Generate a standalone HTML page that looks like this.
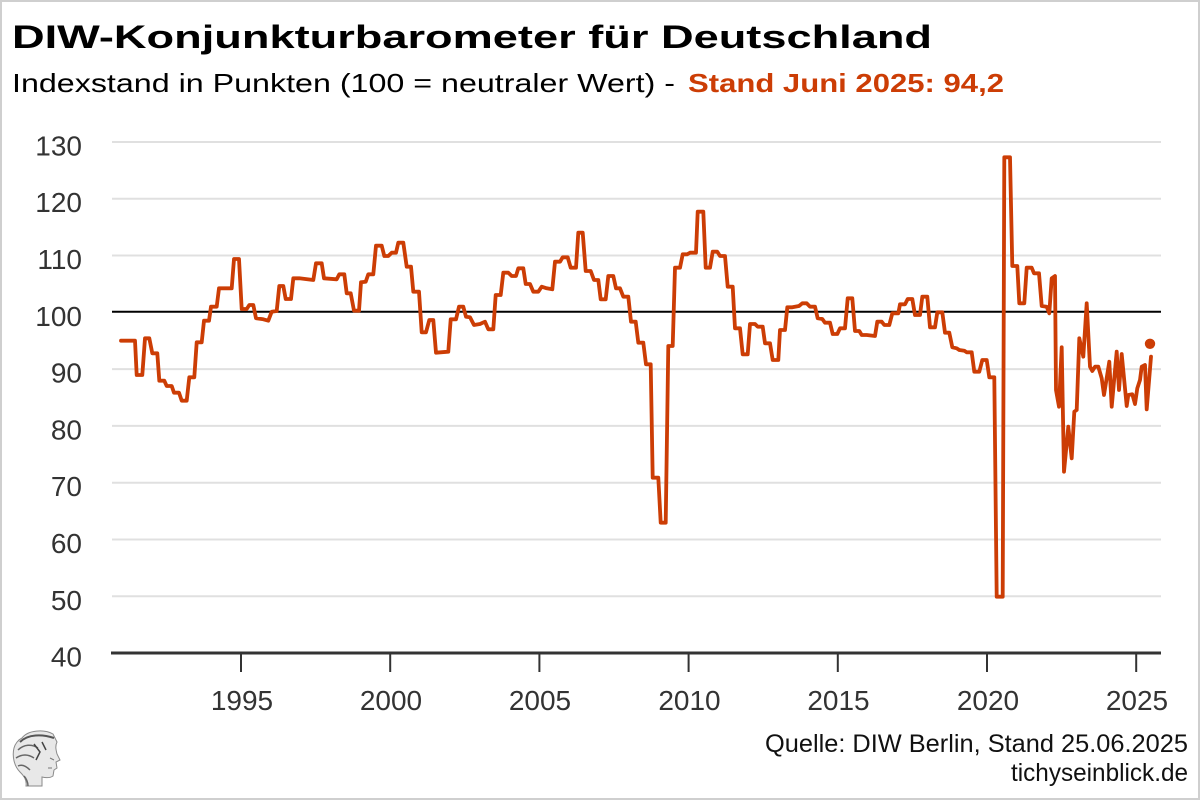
<!DOCTYPE html>
<html><head><meta charset="utf-8"><style>
html,body{margin:0;padding:0;background:#fff;}
svg{display:block;}
text{font-family:"Liberation Sans",sans-serif;}
</style></head><body>
<svg width="1200" height="800" viewBox="0 0 1200 800" xmlns="http://www.w3.org/2000/svg">
<rect x="0" y="0" width="1200" height="800" fill="#fff"/>
<rect x="1" y="1" width="1198" height="798" fill="none" stroke="#cfcfcf" stroke-width="2"/>

<text x="12" y="48" font-size="32" font-weight="bold" fill="#000" textLength="920" lengthAdjust="spacingAndGlyphs">DIW-Konjunkturbarometer für Deutschland</text>
<text x="12" y="92" font-size="26" fill="#000" textLength="663" lengthAdjust="spacingAndGlyphs">Indexstand in Punkten (100 = neutraler Wert) -</text>
<text x="688" y="92" font-size="26" font-weight="bold" fill="#cc3d05" textLength="316" lengthAdjust="spacingAndGlyphs">Stand Juni 2025: 94,2</text>

<g stroke="#e0e0e0" stroke-width="2">
<line x1="112" y1="142" x2="1161" y2="142"/>
<line x1="112" y1="198.7" x2="1161" y2="198.7"/>
<line x1="112" y1="255.5" x2="1161" y2="255.5"/>
<line x1="112" y1="369.1" x2="1161" y2="369.1"/>
<line x1="112" y1="425.9" x2="1161" y2="425.9"/>
<line x1="112" y1="482.7" x2="1161" y2="482.7"/>
<line x1="112" y1="539.5" x2="1161" y2="539.5"/>
<line x1="112" y1="596.3" x2="1161" y2="596.3"/>
</g>
<line x1="112" y1="311.8" x2="1161" y2="311.8" stroke="#000" stroke-width="2"/>

<g font-size="28" fill="#333" text-anchor="end">
<text x="82" y="155.5">130</text>
<text x="82" y="212.2">120</text>
<text x="82" y="269">110</text>
<text x="82" y="325.8">100</text>
<text x="82" y="382.6">90</text>
<text x="82" y="439.4">80</text>
<text x="82" y="496.2">70</text>
<text x="82" y="553">60</text>
<text x="82" y="609.8">50</text>
<text x="82" y="666.6">40</text>
</g>

<line x1="111" y1="653" x2="1161" y2="653" stroke="#333" stroke-width="3"/>
<g stroke="#333" stroke-width="2">
<line x1="241" y1="653" x2="241" y2="672"/>
<line x1="390.2" y1="653" x2="390.2" y2="672"/>
<line x1="539.4" y1="653" x2="539.4" y2="672"/>
<line x1="688.6" y1="653" x2="688.6" y2="672"/>
<line x1="837.8" y1="653" x2="837.8" y2="672"/>
<line x1="987" y1="653" x2="987" y2="672"/>
<line x1="1136.2" y1="653" x2="1136.2" y2="672"/>
</g>
<g font-size="28" fill="#333" text-anchor="middle">
<text x="242" y="710">1995</text>
<text x="391" y="710">2000</text>
<text x="540" y="710">2005</text>
<text x="689.5" y="710">2010</text>
<text x="838.5" y="710">2015</text>
<text x="988" y="710">2020</text>
<text x="1137" y="710">2025</text>
</g>

<polyline fill="none" stroke="#cc3d05" stroke-width="3.8" stroke-linejoin="round" stroke-linecap="round" points="
121,340.7 135,340.7 136.7,375 142.3,375 145,338.3 149.3,338.3 152.3,353.3 157.3,353.3 159.3,380.7 164.3,380.7
166.7,386 171.7,386 174,392.7 179,392.7 181.7,400.7 186.7,400.7 189.3,377.3 194.3,377.3 196.7,342.3 201.7,342.3
204,320.7 209,320.7 211,306.7 216.7,306.7 219,288.3 231.7,288.3 234,259 239,259 241.7,309 246.7,309
249.3,305 253.3,305 256,318.3 263.3,319.3 268.3,320.7 271.7,311.7 276.7,311 279.3,286 283.3,286 285.7,299
291,299 293.3,278.3 299.3,278.3 313.3,280 316,263.3 321.7,263.3 324,278.3 336.7,279.3 339.3,274.3 344.3,274.3
346.7,293.3 350.7,293.3 354,310.7 359,310.7 361,282.3 365.7,281.7 368.3,274.3 373.3,274.3 376,245.7 381.7,245.7
384.3,256 388.3,256 391.7,252.7 396,252.7 398.3,242.7 403.3,242.7 406.7,266.7 411,266.7 413.3,291.7 419,291.7
421.7,332.3 426,332.3 429.3,320 433.3,320 436,352.7 448.3,351.7 450.7,319.3 456,319.3 459,306.7 463.3,306.7
466,316.7 470,317.3 474,325 480,324 485,321.7 488.3,329.3 493.3,329.3 495.7,295 500.7,295 503.3,272.7
508.3,272.7 511.7,276 516,276 518.3,268.3 523.3,268.3 525.7,284 530,284 533.3,291.7 538.3,291.7 541.7,286.7
546.7,288.3 552.3,289.3 555,261.7 560,261.7 562.7,257.3 567.7,257.3 570.7,267.7 576,267.7 578.3,232.7 582.7,232.7
585.7,271 590.7,271 594,280 598.3,280 600.7,299.3 605.7,299.3 608.3,276 613.3,276 616,288.3 620,288.3
623.3,296.7 628.3,296.7 631,321.7 635.7,321.7 638.3,342.7 643.3,342.7 646,364.3 650.7,364.3 652.7,477.7 658.3,477.7
660.7,522.7 665.7,522.7 668.3,346 672.7,346 675,267.7 680,267.7 682.7,254.3 687.3,254.3 690,252.7 696,252.7
697.7,211.7 703.3,211.7 705.7,267.7 710,267.7 712.7,251.7 717.3,251.7 720,256 725,256 727.7,286.7 732.7,286.7
735,328.3 740,328.3 742.7,354.3 747.7,354.3 750,324 755,324 757.7,326.7 762.7,326.7 765,343.3 770,343.3
772.7,360 778.3,360 780,330 785,330 787.3,307.3 792.3,307.3 799,306 802.3,303.3 806.7,303.3 810,306.7
815,306.7 817.7,318.3 822.3,319 825,322.7 830,322.7 832.7,334 837.3,334 840,328.3 845,328.3 847.7,298.3
852.3,298.3 855,331 859.3,331 861.7,335 866.7,335 875,336 877.3,321.7 881.7,321.7 884.3,325 889.3,325
892.3,313.3 898.3,313.3 900,304.3 905,304.3 907.7,299 912.3,299 915,315 920,315 922.3,296.7 927.3,296.7
930,327.3 935,327.3 937.3,312.3 942.3,312.3 945,332.7 949.3,332.7 952.3,347.3 956.7,348.3 959.3,350 964.3,350.7
966.7,352.3 971.7,352.3 974.3,371.7 979.3,371.7 982.3,360 986.7,360 989.3,377.3 994.3,377.3 996.7,596.7 1002.7,596.7
1004.3,157.3 1010,157.3 1012.3,266 1017.3,266 1019.3,303.3 1024.3,303.3 1026.7,267.7 1031.7,267.7 1034,273.3 1039,273.3
1041.7,306 1046.7,306.7 1049.3,313.3 1051.7,278.3 1055,276 1056,390 1059,406.7 1061.7,347.3 1064,471.7 1068.3,426.7
1071.7,458.3 1074.3,411.7 1076.7,410 1079.3,338.3 1083.3,356.7 1086.7,303.3 1090,366.7 1092.3,371 1095,366.7 1098.3,366.7
1101.7,378.3 1104,395 1109.3,361.7 1111.7,406.7 1116.7,351.7 1119,390 1121.7,354 1126.7,406 1128.3,395 1132.3,394.3
1135,404 1137.3,388.3 1140,380 1141.7,366.7 1145,365 1146.7,409.3 1151,356.7"/>
<circle cx="1150" cy="343.8" r="5.2" fill="#cc3d05"/>

<text x="765" y="752" font-size="25" fill="#111" textLength="423" lengthAdjust="spacingAndGlyphs">Quelle: DIW Berlin, Stand 25.06.2025</text>
<text x="1011" y="781" font-size="25" fill="#111" textLength="177" lengthAdjust="spacingAndGlyphs">tichyseinblick.de</text>

<g>
<path d="M22,738 C28,730 44,729 53,734 L57,742 C55,746 56,750 57,754 L60,760 L56,762 L57,768 L54,770 L53,776 C50,778 46,778 42,777 L42,786 L26,786 C27,780 24,776 20,772 C14,766 12,756 14,748 C15,744 18,740 22,738 Z" fill="#e8e8e8" stroke="#8a8a8a" stroke-width="1"/>
<path d="M20,742 C28,734 42,734 54,738" fill="none" stroke="#555" stroke-width="2"/>
<path d="M18,750 C24,744 32,744 38,748 M16,758 C22,754 28,754 34,758 M18,766 C22,764 26,766 30,770 M24,776 C26,778 28,782 28,786" fill="none" stroke="#666" stroke-width="1.5"/>
<path d="M34,744 L40,752 L36,760 M42,742 L46,750" fill="none" stroke="#444" stroke-width="1.5"/>
<path d="M50,758 L54,760 M48,768 L52,768" fill="none" stroke="#777" stroke-width="1"/>
</g>
</svg>
</body></html>
